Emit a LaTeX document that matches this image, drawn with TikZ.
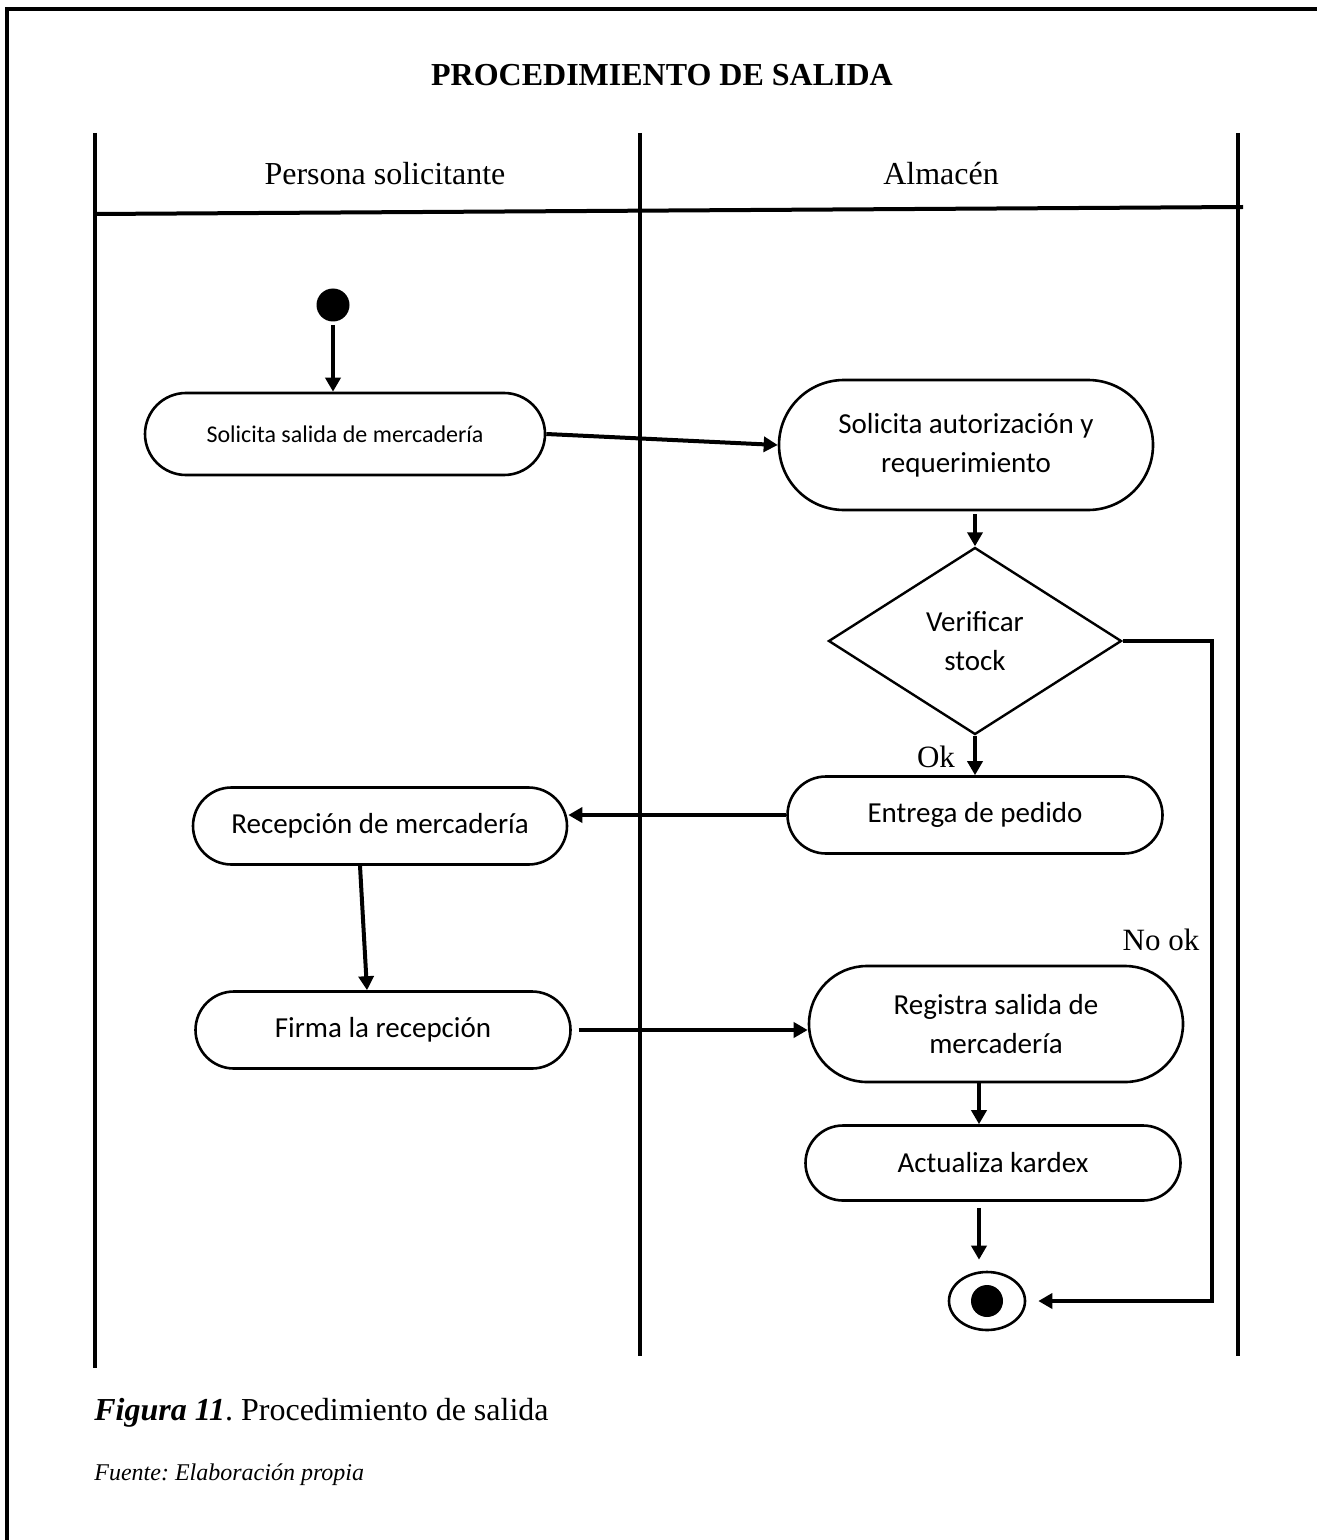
\documentclass[tikz,border=0pt]{standalone}
\usepackage{fontspec}
\setmainfont{Liberation Serif}
\newfontfamily\calfont{Carlito}
\usetikzlibrary{arrows.meta,shapes.geometric,shapes.misc}
\frenchspacing

\begin{document}
\begin{tikzpicture}[x=0.5pt, y=-0.5pt, >={Triangle[length=7pt, width=7.5pt]},
  act/.style={rounded rectangle, draw, line width=1.3pt, align=center, inner sep=0pt,
    font=\calfont\fontsize{14.5}{19.5}\selectfont},
  flow/.style={->, line width=2pt},
  lane/.style={line width=1.6pt},
  lbl/.style={font=\fontsize{15.5}{18}\selectfont, anchor=base, inner sep=0pt}]
\useasboundingbox (0,0) rectangle (1317,1540);
% marco
\draw[line width=2pt] (6.5,1540) -- (6.5,9) -- (1317,9);
% carriles
\draw[lane] (95,133) -- (95,1368);
\draw[lane] (640,133) -- (640,1356);
\draw[lane] (1238,133) -- (1238,1356);
\draw[line width=2pt] (95,214) -- (1243,207);
\node[font=\bfseries\fontsize{16}{19}\selectfont, anchor=base] (titulo) at (662,86) {PROCEDIMIENTO DE SALIDA};
\node[font=\fontsize{16}{19}\selectfont, anchor=base] (laneA) at (385,185) {Persona solicitante};
\node[font=\fontsize{16}{19}\selectfont, anchor=base] (laneB) at (941,185) {Almacén};
% actividades
\node[circle, fill, minimum size=16.5pt, inner sep=0pt] (inicio) at (333,305) {};
\node[act, minimum width=200pt, minimum height=41pt, font=\calfont\fontsize{12}{15}\selectfont] (solSalida) at (345,434) {Solicita salida de mercadería};
\node[act, minimum width=187pt, minimum height=65pt] (solAutor) at (966,445) {Solicita autorización y\\requerimiento};
\node[diamond, draw, line width=1.2pt, align=center, inner sep=0pt, minimum width=146.5pt, minimum height=93.5pt,
  font=\calfont\fontsize{14.5}{19.5}\selectfont] (verif) at (975,641) {Verificar\\stock};
\node[act, minimum width=187.5pt, minimum height=38.5pt] (entrega) at (975,815) {Entrega de pedido};
\node[act, minimum width=187pt, minimum height=38.5pt] (recep) at (380,826) {Recepción de mercadería};
\node[act, minimum width=187.5pt, minimum height=38.5pt] (firma) at (383,1030) {Firma la recepción};
\node[act, minimum width=187pt, minimum height=58pt] (registra) at (996,1024) {Registra salida de\\mercadería};
\node[act, minimum width=187.5pt, minimum height=37.5pt] (kardex) at (993,1163) {Actualiza kardex};
\node[ellipse, draw, line width=1.3pt, minimum width=38pt, minimum height=29pt, inner sep=0pt] (fin) at (987,1301) {};
\node[circle, fill, minimum size=16pt, inner sep=0pt] (finDot) at (fin.center) {};
\coordinate (noRt) at (1212,641);
% flujos
\draw[flow, shorten <=1.5pt] (inicio) -- (inicio |- solSalida.north);
\draw[flow] (solSalida.east) -- (solAutor.west);
\draw[flow, shorten <=1.5pt] (verif.north |- solAutor.south) -- (verif.north);
\draw[flow] (verif.south) -- (entrega.north);
\draw[flow] (entrega.west) -- (entrega.west -| recep.east);
\draw[flow] ([xshift=-10pt]recep.south) -- ([xshift=-8pt]firma.north);
\draw[flow, shorten <=3.5pt] (firma.east) -- (firma.east -| registra.west);
\draw[flow] ([xshift=-8.5pt]registra.south) -- ([xshift=-7pt]kardex.north);
\draw[flow, shorten <=3pt, shorten >=5.5pt] ([xshift=-7pt]kardex.south) -- ([xshift=-7pt]kardex.south |- fin.north);
\draw[flow, shorten >=6pt] (verif.east) -- (noRt) |- (fin.east);
\node[lbl] (okLbl) at (936,767) {Ok};
\node[lbl] (noOkLbl) at (1161,950) {No ok};
% pie
\node[anchor=base west, inner sep=0pt, font=\fontsize{16}{19}\selectfont] (pie) at (94,1420) {\textbf{\textit{Figura 11}}. Procedimiento de salida};
\node[anchor=base west, inner sep=0pt, font=\itshape\fontsize{12}{15}\selectfont] (fuente) at (94,1480) {Fuente: Elaboración propia};
\end{tikzpicture}
\end{document}
